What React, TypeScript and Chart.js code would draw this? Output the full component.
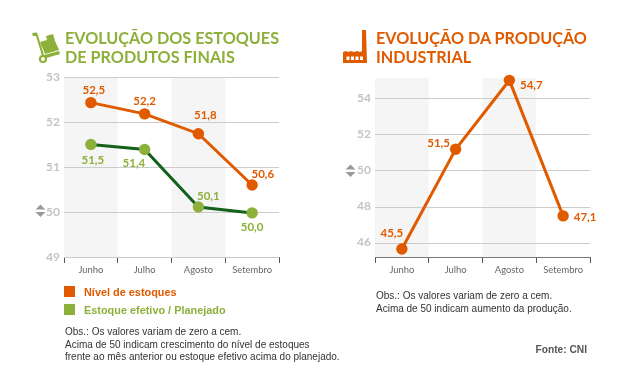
import React, { useEffect, useRef } from "react";
import { Chart, registerables } from "chart.js";

Chart.register(...registerables);

const months = ["Junho", "Julho", "Agosto", "Setembro"];

const nivelValues = [52.43, 52.18, 51.74, 50.6];
const nivelLabels = ["52,5", "52,2", "51,8", "50,6"];
const efetivoValues = [51.5, 51.39, 50.11, 49.98];
const efetivoLabels = ["51,5", "51,4", "50,1", "50,0"];
const estoqueTicks = [49, 50, 51, 52, 53];

const producaoValues = [45.64, 51.18, 55.0, 47.48];
const producaoLabels = ["45,5", "51,5", "54,7", "47,1"];
const producaoTicks = [46, 48, 50, 52, 54];

const ORANGE = "#e05a00";
const GREEN = "#8db03a";
const DARK_GREEN = "#13611a";

const bandsPlugin = {
  id: "bands",
  beforeDatasetsDraw(chart: any) {
    const { ctx, chartArea, scales } = chart;
    const half = (scales.x.getPixelForValue(1) - scales.x.getPixelForValue(0)) / 2;
    ctx.save();
    ctx.fillStyle = "#f5f5f5";
    [0, 2].forEach((i) => {
      const c = scales.x.getPixelForValue(i);
      ctx.fillRect(c - half, chartArea.top, half * 2, chartArea.bottom - chartArea.top);
    });
    ctx.restore();
  },
};

// draws gridlines over the bands
const gridOverPlugin = {
  id: "gridOver",
  beforeDatasetsDraw(chart: any) {
    const { ctx, chartArea, scales } = chart;
    ctx.save();
    ctx.strokeStyle = "#cccccc";
    ctx.lineWidth = 1;
    scales.y.ticks.forEach((t: any) => {
      const y = Math.round(scales.y.getPixelForValue(t.value)) + 0.5;
      ctx.beginPath();
      ctx.moveTo(chartArea.left, y);
      ctx.lineTo(chartArea.right, y);
      ctx.stroke();
    });
    ctx.restore();
  },
};

const labelsPlugin = {
  id: "pointLabels",
  afterDatasetsDraw(chart: any) {
    const { ctx } = chart;
    chart.data.datasets.forEach((ds: any, di: number) => {
      const meta = chart.getDatasetMeta(di);
      ctx.save();
      ctx.font = "700 11.5px Lato";
      ctx.fillStyle = ds.labelColor;
      ctx.textAlign = "center";
      ctx.textBaseline = "middle";
      meta.data.forEach((pt: any, i: number) => {
        const [dx, dy] = ds.labelOffsets[i];
        ctx.fillText(ds.pointTexts[i], pt.x + dx, pt.y + dy);
      });
      ctx.restore();
    });
  },
};

function MiniChart(props: {
  width: number;
  left: number;
  plotLeft: number;
  plotRight: number;
  top: number;
  min: number;
  max: number;
  ticks: number[];
  datasets: any[];
}) {
  const ref = useRef<HTMLCanvasElement>(null);
  useEffect(() => {
    const HEIGHT = 300;
    const chart = new Chart(ref.current as HTMLCanvasElement, {
      type: "line",
      data: { labels: months, datasets: props.datasets },
      plugins: [bandsPlugin, gridOverPlugin, labelsPlugin],
      options: {
        animation: false,
        responsive: false,
        layout: {
          padding: { left: 0, right: props.width - props.plotRight, top: props.top, bottom: 0 },
        },
        plugins: { legend: { display: false }, tooltip: { enabled: false } },
        scales: {
          x: {
            type: "category",
            offset: true,
            afterFit(axis: any) {
              axis.height = HEIGHT - 257;
            },
            border: { color: "#777777", width: 1 },
            grid: {
              offset: true,
              drawOnChartArea: false,
              tickLength: 6,
              color: "#555555",
            },
            ticks: {
              color: "#666666",
              font: { family: "Lato", size: 9.4 },
              padding: 1,
              maxRotation: 0,
              autoSkip: false,
            },
          },
          y: {
            min: props.min,
            max: props.max,
            afterFit(axis: any) {
              axis.width = props.plotLeft;
            },
            afterBuildTicks(axis: any) {
              axis.ticks = props.ticks.map((value) => ({ value }));
            },
            border: { display: false },
            grid: { display: false, drawTicks: false },
            ticks: {
              color: "#c4c4c4",
              font: { family: "Lato", size: 12, weight: "bold" },
              padding: 4,
            },
          },
        },
      } as any,
    });
    return () => chart.destroy();
  }, []);
  return (
    <canvas
      ref={ref}
      width={props.width}
      height={300}
      style={{ position: "absolute", left: props.left, top: 0, width: props.width, height: 300 }}
    />
  );
}

const textStyle = (o: React.CSSProperties): React.CSSProperties => ({
  position: "absolute",
  whiteSpace: "nowrap",
  margin: 0,
  ...o,
});

const titleFont: React.CSSProperties = {
  fontFamily: "Lato",
  fontWeight: 700,
  fontSize: 16.2,
  lineHeight: "19px",
};

const obsFont: React.CSSProperties = {
  fontFamily: "'Liberation Sans'",
  fontSize: 10,
  lineHeight: "12.5px",
  color: "#333333",
};

const legendFont: React.CSSProperties = {
  fontFamily: "'Liberation Sans'",
  fontWeight: 700,
  fontSize: 10.9,
};

function Updown({ x, y }: { x: number; y: number }) {
  return (
    <svg style={{ position: "absolute", left: x, top: y }} width={11} height={14} viewBox="0 0 11 14">
      <path d="M5.5 0.5 L10.5 5.5 H0.5 Z M0.5 8 H10.5 L5.5 13 Z" fill="#9a9a9a" />
    </svg>
  );
}

const sharedLine = {
  borderWidth: 3,
  pointRadius: 5.7,
  pointBorderWidth: 0,
  tension: 0,
  clip: false,
};

export default function App() {
  const nivelDataset = {
    ...sharedLine,
    label: "Nível de estoques",
    data: nivelValues,
    borderColor: ORANGE,
    backgroundColor: ORANGE,
    pointBackgroundColor: ORANGE,
    labelColor: ORANGE,
    pointTexts: nivelLabels,
    labelOffsets: [[3, -12.7], [0, -13], [7, -18.7], [10.7, -10.7]],
    order: 1,
  };
  const efetivoDataset = {
    ...sharedLine,
    label: "Estoque efetivo / Planejado",
    data: efetivoValues,
    borderColor: DARK_GREEN,
    backgroundColor: GREEN,
    pointBackgroundColor: GREEN,
    labelColor: GREEN,
    pointTexts: efetivoLabels,
    labelOffsets: [[2, 15.7], [-10.7, 13.7], [10, -11], [0, 14.3]],
    order: 2,
  };
  const producaoDataset = {
    ...sharedLine,
    label: "Produção industrial",
    data: producaoValues,
    borderColor: ORANGE,
    backgroundColor: ORANGE,
    pointBackgroundColor: ORANGE,
    labelColor: ORANGE,
    pointTexts: producaoLabels,
    labelOffsets: [[-10, -15.7], [-17, -6], [22, 5], [22, 1]],
  };

  return (
    <div style={{ position: "absolute", left: 0, top: 0, width: 641, height: 378, overflow: "hidden", background: "#fff" }}>
      <MiniChart
        width={320}
        left={0}
        plotLeft={64}
        plotRight={279}
        top={77}
        min={49}
        max={53}
        ticks={estoqueTicks}
        datasets={[nivelDataset, efetivoDataset]}
      />
      <MiniChart
        width={321}
        left={320}
        plotLeft={55}
        plotRight={270}
        top={78}
        min={45.2}
        max={55.13}
        ticks={producaoTicks}
        datasets={[producaoDataset]}
      />

      {/* hand truck icon */}
      <svg style={{ position: "absolute", left: 26, top: 26 }} width={40} height={42} viewBox="26 26 40 42">
        <path d="M32 33 L37 32.5 L44 55 L59 51 L60 54 L43 59 L36 36 L33 36 Z" fill={GREEN} />
        <circle cx="43" cy="59" r="3" fill="#fff" stroke={GREEN} strokeWidth="2.2" />
        <path d="M40 42 L47 40 L46 36 L53 34 L55 41 L59 50 L45 54 Z" fill={GREEN} />
      </svg>
      <div style={textStyle({ ...titleFont, left: 65, top: 28, color: GREEN })}>
        EVOLUÇÃO DOS ESTOQUES
        <br />
        DE PRODUTOS FINAIS
      </div>

      {/* factory icon */}
      <svg style={{ position: "absolute", left: 338, top: 26 }} width={40} height={42} viewBox="338 26 40 42">
        <path
          d="M362 30 H366 L367 63 H343 V52 L346 51 L348 52 L351 51 L354 52 L357 51 L360 52 L362 51 Z"
          fill={ORANGE}
        />
        <rect x="346.5" y="56.5" width="3" height="3.5" fill="#fff" />
        <rect x="351" y="56.5" width="3" height="3.5" fill="#fff" />
        <rect x="355.5" y="56.5" width="3" height="3.5" fill="#fff" />
        <rect x="360" y="56.5" width="3" height="3.5" fill="#fff" />
      </svg>
      <div style={textStyle({ ...titleFont, left: 376, top: 28, color: ORANGE })}>
        EVOLUÇÃO DA PRODUÇÃO
        <br />
        INDUSTRIAL
      </div>

      <Updown x={35} y={204} />
      <Updown x={345} y={164} />

      <div style={{ position: "absolute", left: 64, top: 286, width: 11, height: 11, background: ORANGE }} />
      <div style={{ position: "absolute", left: 64, top: 304, width: 11, height: 11, background: GREEN }} />
      <div style={textStyle({ ...legendFont, left: 84, top: 286, color: ORANGE })}>Nível de estoques</div>
      <div style={textStyle({ ...legendFont, left: 84, top: 304, color: GREEN })}>Estoque efetivo / Planejado</div>

      <div style={textStyle({ ...obsFont, left: 65, top: 326 })}>
        Obs.: Os valores variam de zero a cem.
        <br />
        Acima de 50 indicam crescimento do nível de estoques
        <br />
        frente ao mês anterior ou estoque efetivo acima do planejado.
      </div>
      <div style={textStyle({ ...obsFont, left: 376, top: 290 })}>
        Obs.: Os valores variam de zero a cem.
        <br />
        Acima de 50 indicam aumento da produção.
      </div>
      <div
        style={textStyle({
          fontFamily: "'Liberation Sans'",
          fontWeight: 700,
          fontSize: 10.2,
          right: 54,
          top: 344,
          color: "#555555",
        })}
      >
        Fonte: CNI
      </div>
    </div>
  );
}
